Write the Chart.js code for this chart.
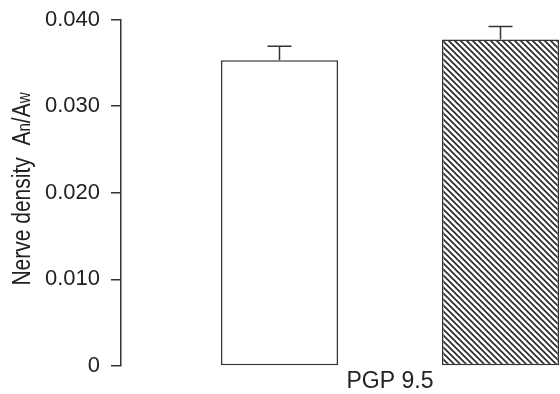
<!DOCTYPE html>
<html>
<head>
<meta charset="utf-8">
<script src="https://cdn.jsdelivr.net/npm/chart.js@4"></script>
<style>
  html, body { margin: 0; padding: 0; background: #fff; overflow: hidden; }
  #wrap { width: 660px; height: 394px; position: relative; }
</style>
</head>
<body>
<div id="wrap"><canvas id="chart"></canvas></div>
<script>
/* chart data */
const categories = ["PGP 9.5"];
const groupNames = ["Group 1", "Group 2"];
const means = [0.0353, 0.0377];
const errors = [0.0016, 0.0015];
const yTicks = [0, 0.01, 0.02, 0.03, 0.04];

const INK = "#333";
const FONT = "'Liberation Sans', Arial, sans-serif";

/* diagonal hatch for the second bar */
function hatch() {
  const s = 6;
  const c = document.createElement("canvas");
  c.width = s; c.height = s;
  const g = c.getContext("2d");
  g.fillStyle = "#fff";
  g.fillRect(0, 0, s, s);
  g.strokeStyle = "#2a2a2a";
  g.lineWidth = 1.7;
  for (const k of [-s, 0, s]) {
    g.beginPath();
    g.moveTo(k - 1, -1);
    g.lineTo(k + s + 1, s + 1);
    g.stroke();
  }
  return g.createPattern(c, "repeat");
}

/* error bars drawn on top of each bar */
const errorBars = {
  id: "errorBars",
  afterDatasetsDraw(chart) {
    const ctx = chart.ctx;
    const y = chart.scales.y;
    ctx.save();
    ctx.strokeStyle = INK;
    ctx.lineWidth = 1.5;
    chart.data.datasets.forEach((ds, i) => {
      chart.getDatasetMeta(i).data.forEach((bar, j) => {
        const top = y.getPixelForValue(ds.data[j] + ds.err[j]);
        ctx.beginPath();
        ctx.moveTo(bar.x, bar.y);
        ctx.lineTo(bar.x, top);
        ctx.moveTo(bar.x - 12, top);
        ctx.lineTo(bar.x + 12, top);
        ctx.stroke();
      });
    });
    ctx.restore();
  }
};

/* rotated y title, condensed, with small n and w */
const yTitle = {
  id: "yTitle",
  afterDraw(chart) {
    const ctx = chart.ctx;
    const big = "25px " + FONT;
    const small = "18px " + FONT;
    const parts = [
      { t: "Nerve density  A", f: big },
      { t: "n", f: small },
      { t: "/A", f: big },
      { t: "w", f: small }
    ];
    let total = 0;
    parts.forEach(p => { ctx.font = p.f; p.w = ctx.measureText(p.t).width; total += p.w; });
    ctx.save();
    ctx.translate(30, 189);
    ctx.rotate(-Math.PI / 2);
    ctx.scale(0.84, 1);
    ctx.fillStyle = "#222";
    ctx.textBaseline = "alphabetic";
    ctx.textAlign = "left";
    let x = -total / 2;
    parts.forEach(p => {
      ctx.font = p.f;
      ctx.fillText(p.t, x, 0);
      x += p.w;
    });
    ctx.restore();
  }
};

const datasets = groupNames.map((name, i) => ({
  label: name,
  data: [means[i]],
  err: [errors[i]],
  backgroundColor: i === 0 ? "#fff" : hatch(),
  borderColor: INK,
  borderWidth: 1.5,
  borderSkipped: false,
  categoryPercentage: 0.8216,
  barPercentage: 0.5294
}));

new Chart(document.getElementById("chart"), {
  type: "bar",
  data: { labels: categories, datasets },
  plugins: [errorBars, yTitle],
  options: {
    responsive: true,
    maintainAspectRatio: false,
    animation: false,
    layout: { padding: { top: 19.5, right: 1, left: 0, bottom: 0 } },
    plugins: {
      legend: { display: false },
      tooltip: { enabled: false }
    },
    scales: {
      x: {
        grid: { display: false, drawTicks: false },
        border: { display: false },
        ticks: {
          color: "#222",
          padding: 2,
          font: { family: FONT, size: 23 }
        },
        afterFit: s => { s.height = 28; s.paddingLeft = 0; s.paddingRight = 0; }
      },
      y: {
        min: yTicks[0],
        max: yTicks[yTicks.length - 1],
        afterBuildTicks: s => { s.ticks = yTicks.map(v => ({ value: v })); },
        grid: {
          drawOnChartArea: false,
          drawTicks: true,
          tickLength: 10,
          color: INK,
          lineWidth: 1.5
        },
        border: { display: true, color: INK, width: 1.5 },
        ticks: {
          color: "#222",
          padding: 11,
          font: { family: FONT, size: 22 },
          callback: v => v === 0 ? "0" : v.toFixed(3)
        },
        afterFit: s => { s.width = 121; s.paddingTop = 0; s.paddingBottom = 0; }
      }
    }
  }
});
</script>
</body>
</html>
